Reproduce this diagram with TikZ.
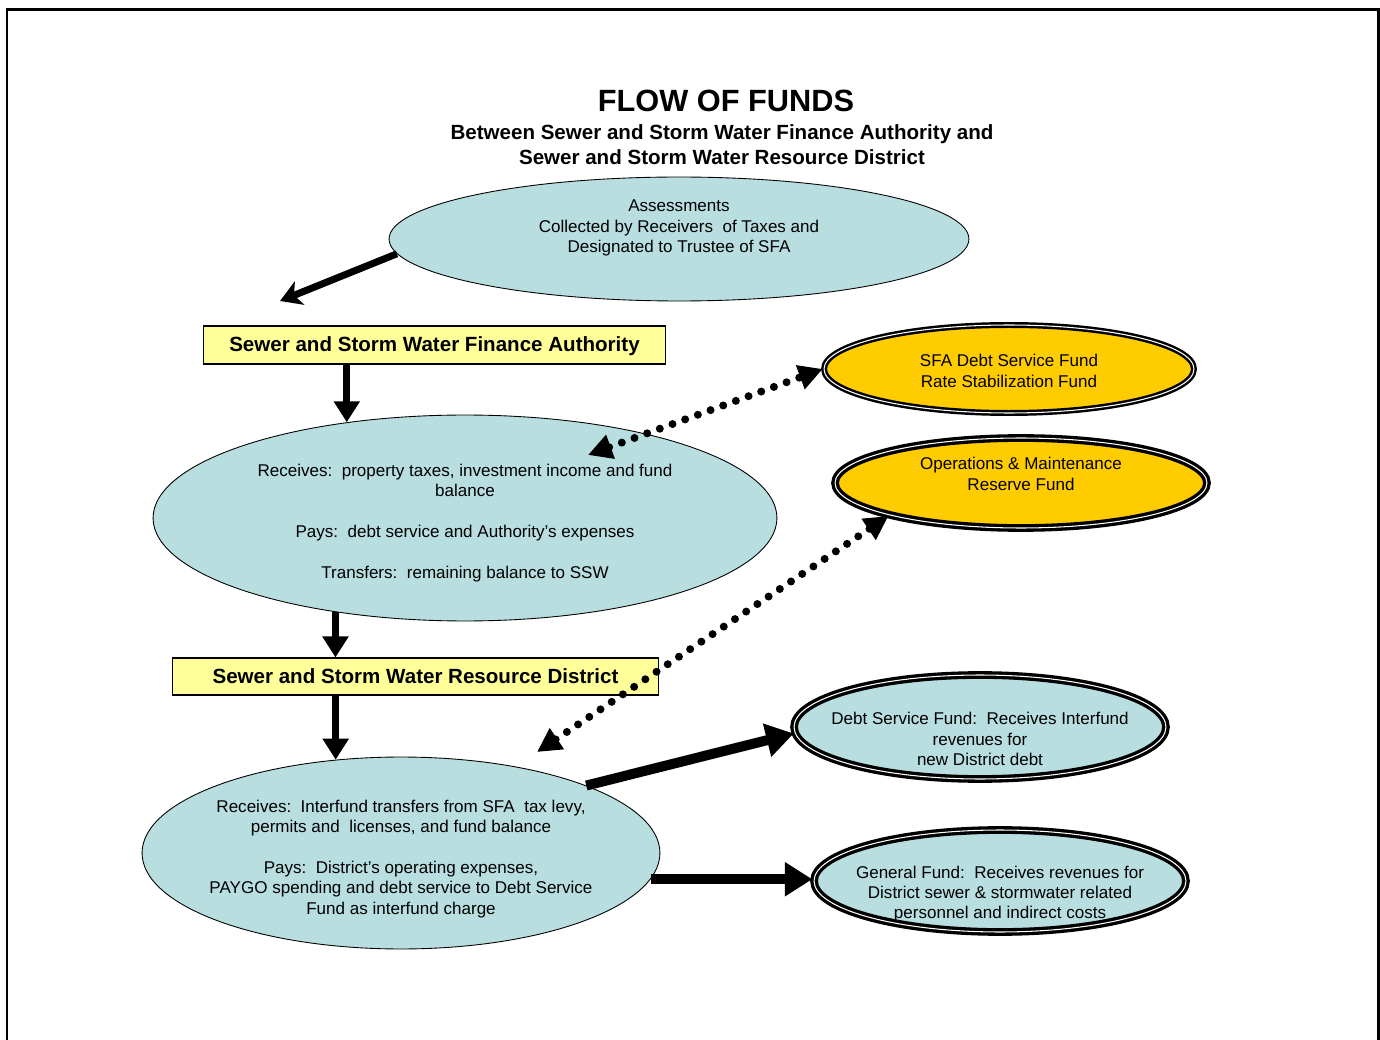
\documentclass[tikz,border=0pt]{standalone}
\usepackage{fontspec}
\setmainfont{Liberation Sans}
\usepackage{xcolor}
\definecolor{ovalblue}{HTML}{B8DEE0}
\definecolor{bandyellow}{HTML}{FFFF99}
\definecolor{fundgold}{HTML}{FFCC00}
\usetikzlibrary{shapes.geometric, arrows.meta, positioning}

\begin{document}
\begin{tikzpicture}[
  x=0.02cm, y=-0.02cm,
  every node/.style={font=\fontsize{9.7}{11.6}\selectfont},
  oval/.style={ellipse, draw=black, line width=0.5pt, fill=ovalblue, inner sep=0pt},
  fundoval/.style={ellipse, draw=black, double=white, double distance=0.6pt, line width=1.4pt, inner sep=0pt},
  ovaltext/.style={align=center, inner sep=0pt},
  bandbox/.style={draw=black, line width=0.6pt, fill=bandyellow, inner sep=0pt,
    text height=8.4pt, text depth=0.6pt, font=\fontsize{11.7}{13}\selectfont\bfseries},
  bigarrow/.style={line width=0.14cm, -{Triangle[length=0.42cm, width=0.5cm]}},
  widearrow/.style={line width=0.2cm, -{Triangle[length=0.55cm, width=0.65cm]}},
  dotarrow/.style={line width=0.16cm, line cap=round, dash pattern=on 0pt off 0.27cm,
    {Triangle[length=0.48cm, width=0.48cm]}-{Triangle[length=0.48cm, width=0.48cm]}}
]
  \useasboundingbox (0,0) rectangle (1380,1040);
  \draw[line width=0.06cm] (7,1040) -- (7,10) -- (1378,10) -- (1378,1040);

  % heading
  \node[font=\fontsize{17.5}{20}\selectfont\bfseries] (title) at (726,101) {FLOW OF FUNDS};
  \node[font=\fontsize{11.7}{14.2}\selectfont\bfseries, align=center] (subtitle) at (722,145)
    {Between Sewer and Storm Water Finance Authority and\\Sewer and Storm Water Resource District};

  % left column
  \node[oval, minimum width=11.6cm, minimum height=2.48cm] (assess) at (679,239) {};
  \node[ovaltext] (assesstxt) at (679,228)
    {Assessments\\Collected by Receivers\ \ of Taxes and\\Designated to Trustee of SFA};
  \node[bandbox, minimum width=9.26cm, minimum height=0.76cm] (sfa) at (434.5,345)
    {Sewer and Storm Water Finance Authority};
  \node[oval, minimum width=12.48cm, minimum height=4.12cm] (sfarcv) at (465,518) {};
  \node[ovaltext] (sfarcvtxt) at (465,523)
    {Receives:\ \ property taxes, investment income and fund\\balance\\[11.6pt]
     Pays:\ \ debt service and Authority's expenses\\[11.6pt]
     Transfers:\ \ remaining balance to SSW};
  \node[bandbox, minimum width=9.74cm, minimum height=0.74cm] (ssw) at (415.5,676.5)
    {Sewer and Storm Water Resource District};
  \node[oval, minimum width=10.36cm, minimum height=3.84cm] (sswrcv) at (401,853) {};
  \node[ovaltext] (sswrcvtxt) at (401,859)
    {Receives:\ \ Interfund transfers from SFA\ \ tax levy,\\permits and\ \ licenses, and fund balance\\[11.6pt]
     Pays:\ \ District's operating expenses,\\PAYGO spending and debt service to Debt Service\\Fund as interfund charge};

  % right column
  \node[fundoval, fill=fundgold, minimum width=7.4cm, minimum height=1.76cm] (sfadebt) at (1009,369) {};
  \node[ovaltext] (sfadebttxt) at (1009,371) {SFA Debt Service Fund\\Rate Stabilization Fund};
  \node[fundoval, fill=fundgold, line width=1.9pt, minimum width=7.44cm, minimum height=1.8cm] (omreserve) at (1021,483) {};
  \node[ovaltext] (omreservetxt) at (1021,474) {Operations \& Maintenance\\Reserve Fund};
  \node[fundoval, fill=ovalblue, line width=1.9pt, minimum width=7.44cm, minimum height=2.08cm] (debtfund) at (980,727) {};
  \node[ovaltext] (debtfundtxt) at (980,739)
    {Debt Service Fund:\ \ Receives Interfund\\revenues for\\new District debt};
  \node[fundoval, fill=ovalblue, line width=1.9pt, minimum width=7.44cm, minimum height=2.04cm] (genfund) at (1000,881) {};
  \node[ovaltext] (genfundtxt) at (1000,894)
    {General Fund:\ \ Receives revenues for\\District sewer \& stormwater related\\personnel and indirect costs};

  % connectors
  \coordinate (assessdrop) at (280,301);
  \coordinate (sfarcvend) at (588,455);
  \coordinate (sswrcvend) at (537,752);
  \draw[line width=0.14cm, -{Stealth[length=0.42cm, width=0.5cm, inset=0.12cm]}] (assess.183) -- (assessdrop);
  \draw[bigarrow] (sfa.south -| sfarcv.141) -- (sfarcv.141);
  \draw[bigarrow] (sfarcv.216) -- (ssw.north -| sfarcv.216);
  \draw[bigarrow] (ssw.south -| sswrcv.125) -- (sswrcv.125);
  \draw[dotarrow] (sfarcvend) -- (sfadebt.west);
  \draw[dotarrow] (sswrcvend) -- (omreserve.194);
  \draw[widearrow] (sswrcv.20) -- (debtfund.182);
  \draw[widearrow] (sswrcv.-6) -- (sswrcv.-6 -| genfund.west);
\end{tikzpicture}
\end{document}
